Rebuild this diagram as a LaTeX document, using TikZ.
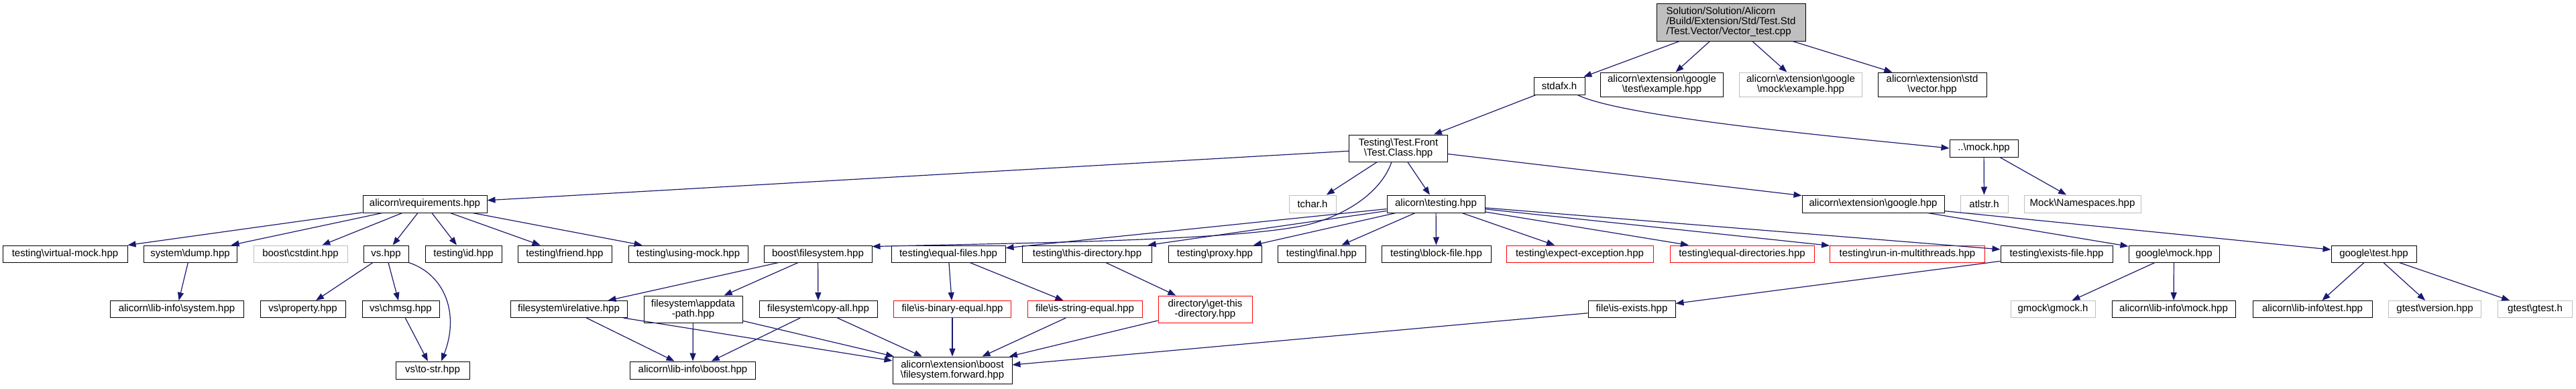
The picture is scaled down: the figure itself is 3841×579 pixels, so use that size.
\documentclass[tikz,border=0pt]{standalone}
\usepackage{fontspec}
\newfontfamily\nodefont{Liberation Sans}
\usetikzlibrary{arrows.meta}
\newcommand\bsl{\textbackslash}
\definecolor{edgec}{HTML}{191970}
\definecolor{graybd}{HTML}{BFBFBF}
\definecolor{mainfill}{HTML}{BFBFBF}
\tikzset{
  nb/.style={draw=black, line width=1pt, fill=white, inner sep=0pt, align=center,
             font={\nodefont\fontsize{15}{15}\selectfont}},
  gb/.style={nb, draw=graybd},
  rb/.style={nb, draw=red},
  mb/.style={nb, fill=mainfill, align=left},
  dep/.style={draw=edgec, line width=1.2pt, -{Triangle[length=12pt,width=9pt]}},
}
\begin{document}
\begin{tikzpicture}[x=1pt,y=-1pt]
\useasboundingbox (0,0) rectangle (3841,579);
% row 0
\node[mb, minimum width=222pt, minimum height=56pt] (main) at (2581,33)
  {Solution/Solution/Alicorn\\/Build/Extension/Std/Test.Std\\/Test.Vector/Vector\_test.cpp};
% row 1
\node[nb, minimum width=76pt, minimum height=26pt] (stdafx) at (2325,128) {stdafx.h};
\node[nb, minimum width=183pt, minimum height=36pt] (gtestex) at (2478,126) {alicorn\bsl{}extension\bsl{}google\\\bsl{}test\bsl{}example.hpp};
\node[gb, minimum width=183pt, minimum height=36pt] (gmockex) at (2685,126) {alicorn\bsl{}extension\bsl{}google\\\bsl{}mock\bsl{}example.hpp};
\node[nb, minimum width=162pt, minimum height=36pt] (vector) at (2881,126) {alicorn\bsl{}extension\bsl{}std\\\bsl{}vector.hpp};
% row 2
\node[nb, minimum width=147pt, minimum height=40pt] (tc) at (2085,221) {Testing\bsl{}Test.Front\\\bsl{}Test.Class.hpp};
\node[nb, minimum width=102pt, minimum height=26pt] (mockhpp) at (2958,221) {..\bsl{}mock.hpp};
% row 3
\node[nb, minimum width=185pt, minimum height=26pt] (req) at (633.5,304) {alicorn\bsl{}requirements.hpp};
\node[gb, minimum width=70pt, minimum height=26pt] (tchar) at (1957,304) {tchar.h};
\node[nb, minimum width=146pt, minimum height=26pt] (testing) at (2141,304) {alicorn\bsl{}testing.hpp};
\node[nb, minimum width=212pt, minimum height=26pt] (google) at (2793,304) {alicorn\bsl{}extension\bsl{}google.hpp};
\node[gb, minimum width=71pt, minimum height=26pt] (atlstr) at (2958.5,304) {atlstr.h};
\node[gb, minimum width=174pt, minimum height=26pt] (namesp) at (3105,304) {Mock\bsl{}Namespaces.hpp};
% row 4
\node[nb, minimum width=186pt, minimum height=25pt] (virtualmock) at (97,378.5) {testing\bsl{}virtual-mock.hpp};
\node[nb, minimum width=139pt, minimum height=25pt] (dump) at (283.5,378.5) {system\bsl{}dump.hpp};
\node[gb, minimum width=140pt, minimum height=25pt] (cstdint) at (448,378.5) {boost\bsl{}cstdint.hpp};
\node[nb, minimum width=67pt, minimum height=25pt] (vs) at (575.5,378.5) {vs.hpp};
\node[nb, minimum width=114pt, minimum height=25pt] (id) at (691,378.5) {testing\bsl{}id.hpp};
\node[nb, minimum width=140pt, minimum height=25pt] (friend) at (842,378.5) {testing\bsl{}friend.hpp};
\node[nb, minimum width=178pt, minimum height=25pt] (usingmock) at (1026,378.5) {testing\bsl{}using-mock.hpp};
\node[nb, minimum width=161pt, minimum height=25pt] (boostfs) at (1219.5,378.5) {boost\bsl{}filesystem.hpp};
\node[nb, minimum width=170pt, minimum height=25pt] (equalfiles) at (1414,378.5) {testing\bsl{}equal-files.hpp};
\node[nb, minimum width=193pt, minimum height=25pt] (thisdir) at (1621,378.5) {testing\bsl{}this-directory.hpp};
\node[nb, minimum width=139pt, minimum height=25pt] (proxy) at (1811.5,378.5) {testing\bsl{}proxy.hpp};
\node[nb, minimum width=131pt, minimum height=25pt] (final) at (1970.5,378.5) {testing\bsl{}final.hpp};
\node[nb, minimum width=163pt, minimum height=25pt] (blockfile) at (2141.5,378.5) {testing\bsl{}block-file.hpp};
\node[rb, minimum width=219pt, minimum height=25pt] (expectexc) at (2355.5,378.5) {testing\bsl{}expect-exception.hpp};
\node[rb, minimum width=215pt, minimum height=25pt] (equaldirs) at (2597.5,378.5) {testing\bsl{}equal-directories.hpp};
\node[rb, minimum width=231pt, minimum height=25pt] (runmt) at (2844,378.5) {testing\bsl{}run-in-multithreads.hpp};
\node[nb, minimum width=167pt, minimum height=25pt] (existsfile) at (3066.5,378.5) {testing\bsl{}exists-file.hpp};
\node[nb, minimum width=135pt, minimum height=25pt] (gmockhpp) at (3241.5,378.5) {google\bsl{}mock.hpp};
\node[nb, minimum width=127pt, minimum height=25pt] (gtesthpp) at (3539.5,378.5) {google\bsl{}test.hpp};
% row 5
\node[nb, minimum width=199pt, minimum height=25pt] (libsystem) at (263.5,461) {alicorn\bsl{}lib-info\bsl{}system.hpp};
\node[nb, minimum width=127pt, minimum height=25pt] (property) at (451.5,461) {vs\bsl{}property.hpp};
\node[nb, minimum width=115pt, minimum height=25pt] (chmsg) at (597.5,461) {vs\bsl{}chmsg.hpp};
\node[nb, minimum width=174pt, minimum height=25pt] (irelative) at (848,461) {filesystem\bsl{}irelative.hpp};
\node[nb, minimum width=147pt, minimum height=40pt] (appdata) at (1033.5,461) {filesystem\bsl{}appdata\\-path.hpp};
\node[nb, minimum width=176pt, minimum height=25pt] (copyall) at (1220,461) {filesystem\bsl{}copy-all.hpp};
\node[rb, minimum width=175pt, minimum height=25pt] (isbinary) at (1420,461) {file\bsl{}is-binary-equal.hpp};
\node[rb, minimum width=171pt, minimum height=25pt] (isstring) at (1617.5,461) {file\bsl{}is-string-equal.hpp};
\node[rb, minimum width=140pt, minimum height=40pt] (getthisdir) at (1797,461) {directory\bsl{}get-this\\-directory.hpp};
\node[nb, minimum width=130pt, minimum height=25pt] (isexists) at (2433,461) {file\bsl{}is-exists.hpp};
\node[gb, minimum width=126pt, minimum height=25pt] (gmockh) at (3061,461) {gmock\bsl{}gmock.h};
\node[nb, minimum width=184pt, minimum height=25pt] (libmock) at (3241,461) {alicorn\bsl{}lib-info\bsl{}mock.hpp};
\node[nb, minimum width=178pt, minimum height=25pt] (libtest) at (3448,461) {alicorn\bsl{}lib-info\bsl{}test.hpp};
\node[gb, minimum width=138pt, minimum height=25pt] (gtestversion) at (3630.5,461) {gtest\bsl{}version.hpp};
\node[gb, minimum width=111pt, minimum height=25pt] (gtesth) at (3780,461) {gtest\bsl{}gtest.h};
% row 6
\node[nb, minimum width=110pt, minimum height=26pt] (tostr) at (645,552) {vs\bsl{}to-str.hpp};
\node[nb, minimum width=187pt, minimum height=26pt] (libboost) at (1033,552) {alicorn\bsl{}lib-info\bsl{}boost.hpp};
\node[nb, minimum width=178pt, minimum height=40pt] (forward) at (1420,552) {alicorn\bsl{}extension\bsl{}boost\\\bsl{}filesystem.forward.hpp};

% edges
\foreach \a/\b in {main/stdafx, main/gtestex, main/gmockex, main/vector,
  stdafx/tc, tc/req, tc/tchar, tc/testing, tc/google,
  mockhpp/atlstr, mockhpp/namesp,
  req/virtualmock, req/dump, req/cstdint, req/vs, req/id, req/friend, req/usingmock,
  testing/equalfiles, testing/thisdir, testing/proxy, testing/final, testing/blockfile,
  testing/expectexc, testing/equaldirs, testing/runmt, testing/existsfile,
  google/gmockhpp, google/gtesthpp,
  dump/libsystem, vs/property, vs/chmsg, chmsg/tostr,
  boostfs/irelative, boostfs/appdata, boostfs/copyall,
  equalfiles/isbinary, equalfiles/isstring, thisdir/getthisdir, existsfile/isexists,
  gmockhpp/gmockh, gmockhpp/libmock,
  gtesthpp/libtest, gtesthpp/gtestversion, gtesthpp/gtesth,
  irelative/libboost, irelative/forward, appdata/libboost, appdata/forward,
  copyall/libboost, copyall/forward,
  isbinary/forward, isstring/forward, getthisdir/forward, isexists/forward}
  \draw[dep] (\a) -- (\b);
% curved edges
\draw[dep] ([xshift=27pt]stdafx.south) .. controls (2420,175) and (2750,205) .. (mockhpp.west);
\draw[dep] ([xshift=-10pt]tc.south) .. controls (2060,285) and (2010,320) .. (1950,335)
   .. controls (1850,358) and (1550,362) .. ([yshift=-2pt]boostfs.north east);
\draw[dep] (vs.south east) .. controls (665,410) and (685,470) .. ([xshift=13pt]tostr.north);
\end{tikzpicture}
\end{document}
